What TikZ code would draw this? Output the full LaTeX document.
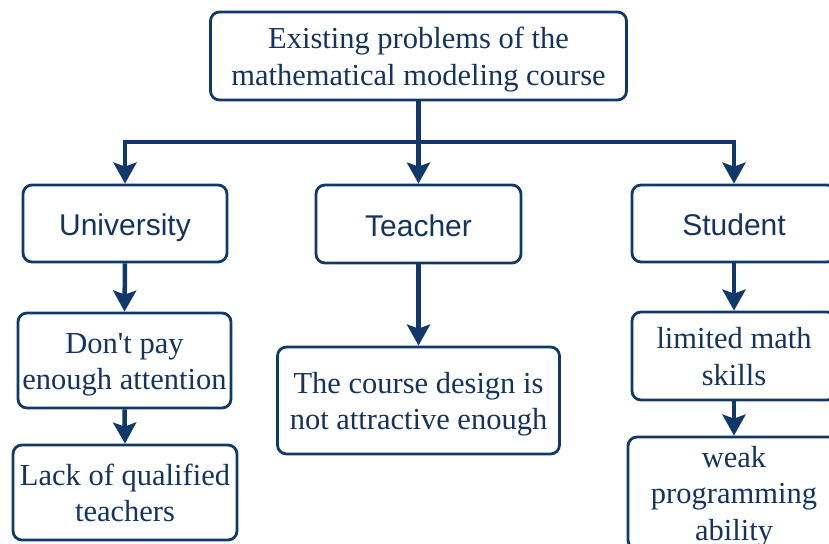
\documentclass[tikz,border=0pt]{standalone}
\usepackage{fontspec}
\setmainfont{Liberation Serif}[Ligatures=TeXOff]
\setsansfont{Liberation Sans}
\usetikzlibrary{arrows.meta}
\definecolor{navy}{HTML}{10386A}
\definecolor{ink}{HTML}{14345E}
% multi-line label, lowered a little inside its box
\newcommand{\boxtext}[1]{\raisebox{-3.5pt}[\height][\depth]{\begin{tabular}{@{}c@{}}#1\end{tabular}}}
\begin{document}
\begin{tikzpicture}[x=1pt,y=-1pt,
  box/.style={draw=navy, line width=2.8pt, rounded corners=9pt, fill=white,
    inner sep=0pt, align=center, text=ink,
    font=\fontsize{30.5}{36.5}\selectfont},
  sbox/.style={box, font=\sffamily\fontsize{30}{34}\selectfont,
    text height=30pt, text depth=5.5pt},
  arr/.style={draw=navy, line width=4.5pt, miter limit=4,
    -{Stealth[length=21pt, width=23pt, inset=4pt]}}]
\useasboundingbox (0,0) rectangle (829,543);
\clip (0,0) rectangle (829,543);

% main heading
\node[box, minimum width=416pt, minimum height=88pt] (top) at (418.5,56)
  {\boxtext{Existing problems of the\\mathematical modeling course}};

% three stakeholders
\node[sbox, minimum width=204pt, minimum height=77pt] (uni) at (125,223.5) {University};
\node[sbox, minimum width=205pt, minimum height=78pt] (teach) at (418.5,224) {Teacher};
\node[sbox, minimum width=204pt, minimum height=77pt] (stud) at (734,223.5) {Student};

% university branch
\node[box, minimum width=213pt, minimum height=95pt] (dpa) at (124.5,360.5)
  {\boxtext{Don't pay\\enough attention}};
\node[box, minimum width=224pt, minimum height=95pt] (lack) at (125,492.5)
  {\boxtext{Lack of qualified\\teachers}};

% teacher branch
\node[box, minimum width=282pt, minimum height=107pt] (course) at (418.5,400.5)
  {\boxtext{The course design is\\not attractive enough}};

% student branch
\node[box, minimum width=204pt, minimum height=88pt] (lim) at (734,356)
  {\boxtext{limited math\\skills}};
\node[box, minimum width=212pt, minimum height=112pt] (weak) at (734,493)
  {\boxtext{weak\\programming\\ability}};

% distribution bar
\coordinate (bar) at (418.5,142);
\draw[arr] (top.south) -- (top.south |- bar) -| (uni.north);
\draw[arr] (top.south) -- (top.south |- bar) -| (stud.north);
\draw[arr] (top.south) -- (teach.north);

% branch arrows
\draw[arr] (uni.south) -- (dpa.north);
\draw[arr] (dpa.south) -- (lack.north);
\draw[arr] (teach.south) -- (course.north);
\draw[arr] (stud.south) -- (lim.north);
\draw[arr] (lim.south) -- (weak.north);
\end{tikzpicture}
\end{document}
